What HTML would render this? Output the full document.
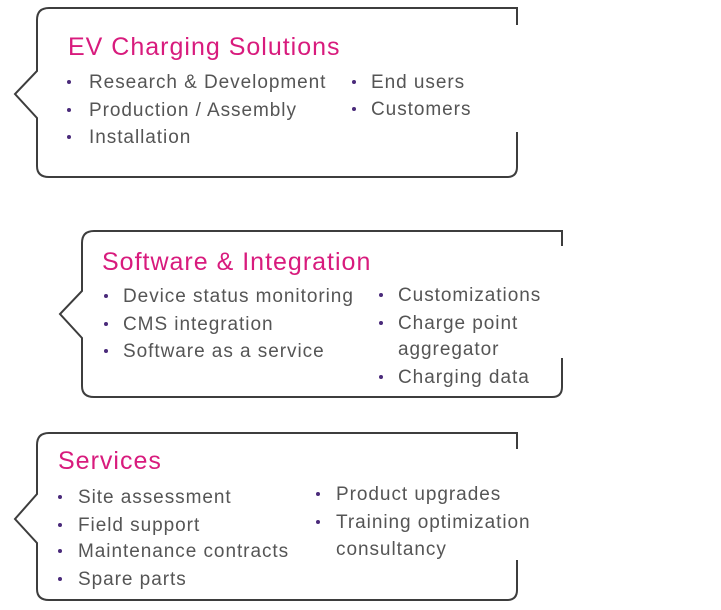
<!DOCTYPE html>
<html><head><style>
body{margin:0;background:#fff;width:721px;height:610px;position:relative;overflow:hidden;font-family:"Liberation Sans",sans-serif}
svg{position:absolute;left:0;top:0}
.t{position:absolute;color:#d81b7d;font-size:25px;letter-spacing:1px;line-height:1;white-space:nowrap}
.i{position:absolute;color:#555;font-size:19px;letter-spacing:0.95px;line-height:1;white-space:nowrap}
.b{position:absolute;width:4px;height:4px;border-radius:50%;background:#4a2a7a}
</style></head><body>
<svg width="721" height="610">
<g fill="none" stroke="#3d3d3d" stroke-width="2">
<path d="M517 25 V8 H49 Q37 8 37 20 V71 L15 94 L37 118 V166 Q37 177 49 177 H507 Q517 177 517 167 V132"/>
<path d="M562 246 V231 H94 Q82 231 82 243 V291 L60 314 L82 338 V386 Q82 397 94 397 H552 Q562 397 562 387 V358"/>
<path d="M517 449 V433 H49 Q37 433 37 445 V494 L15 519 L37 543 V589 Q37 600 49 600 H507 Q517 600 517 590 V560"/>
</g></svg>

<div class="t" style="left:68px;top:35px">EV Charging Solutions</div>
<div class="b" style="left:67px;top:80px"></div><div class="i" style="left:89px;top:73px">Research &amp; Development</div>
<div class="b" style="left:67px;top:108px"></div><div class="i" style="left:89px;top:101px">Production / Assembly</div>
<div class="b" style="left:67px;top:135px"></div><div class="i" style="left:89px;top:128px">Installation</div>
<div class="b" style="left:352px;top:80px"></div><div class="i" style="left:371px;top:73px">End users</div>
<div class="b" style="left:352px;top:107px"></div><div class="i" style="left:371px;top:100px">Customers</div>

<div class="t" style="left:102px;top:250px">Software &amp; Integration</div>
<div class="b" style="left:104px;top:294px"></div><div class="i" style="left:123px;top:287px">Device status monitoring</div>
<div class="b" style="left:104px;top:322px"></div><div class="i" style="left:123px;top:315px">CMS integration</div>
<div class="b" style="left:104px;top:349px"></div><div class="i" style="left:123px;top:342px">Software as a service</div>
<div class="b" style="left:379px;top:293px"></div><div class="i" style="left:398px;top:286px">Customizations</div>
<div class="b" style="left:379px;top:321px"></div><div class="i" style="left:398px;top:314px">Charge point</div>
<div class="i" style="left:398px;top:340px">aggregator</div>
<div class="b" style="left:379px;top:375px"></div><div class="i" style="left:398px;top:368px">Charging data</div>

<div class="t" style="left:58px;top:449px">Services</div>
<div class="b" style="left:58px;top:495px"></div><div class="i" style="left:78px;top:488px">Site assessment</div>
<div class="b" style="left:58px;top:523px"></div><div class="i" style="left:78px;top:516px">Field support</div>
<div class="b" style="left:58px;top:549px"></div><div class="i" style="left:78px;top:542px">Maintenance contracts</div>
<div class="b" style="left:58px;top:577px"></div><div class="i" style="left:78px;top:570px">Spare parts</div>
<div class="b" style="left:316px;top:492px"></div><div class="i" style="left:336px;top:485px">Product upgrades</div>
<div class="b" style="left:316px;top:520px"></div><div class="i" style="left:336px;top:513px">Training optimization</div>
<div class="i" style="left:336px;top:540px">consultancy</div>
</body></html>
